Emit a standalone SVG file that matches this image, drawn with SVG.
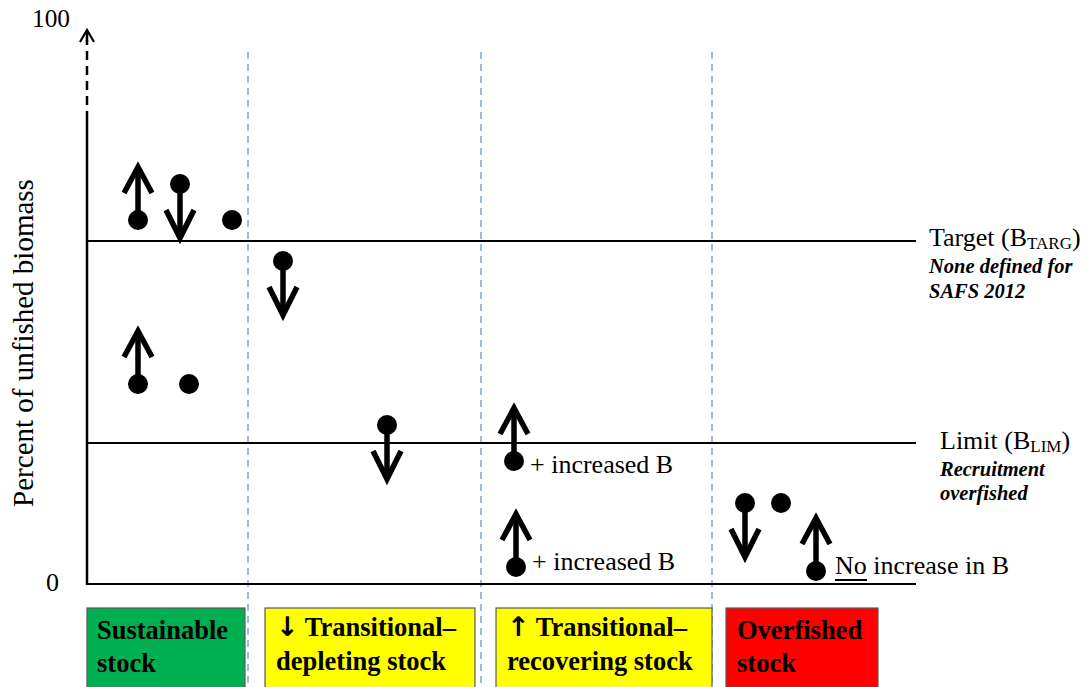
<svg xmlns="http://www.w3.org/2000/svg" width="1088" height="687" viewBox="0 0 1088 687" font-family="Liberation Serif, serif">
  <style>
    text { fill: #000; }
    .lbl { font-size: 26px; }
    .note { font-size: 20.5px; font-weight: bold; font-style: italic; }
    .sub { font-size: 17px; }
    .boxtxt { font-size: 26.5px; font-weight: bold; }
    .glyph { font-family: "DejaVu Sans", sans-serif; font-weight: bold; font-size: 27px; }
    .ref { stroke: #000; stroke-width: 2; fill: none; }
    .col { stroke: #7ea6d6; stroke-width: 1.5; stroke-dasharray: 7 5; fill: none; }
    .box { stroke: #5a5a5a; stroke-width: 1.2; }
    .shaft { stroke: #000; stroke-width: 5.5; fill: none; stroke-linecap: butt; stroke-linejoin: miter; }
    .dot { fill: #000; }
  </style>
  <defs>
    <!-- stock moving up: dot at origin, shaft rising 53px to a chevron head -->
    <g id="up">
      <line class="shaft" x1="0" y1="0" x2="0" y2="-51"/>
      <polyline class="shaft" points="-14,-27 0,-53 14,-27"/>
      <circle class="dot" cx="0" cy="0" r="10"/>
    </g>
    <!-- stock moving down: dot at origin, shaft falling 54px to a chevron head -->
    <g id="down">
      <line class="shaft" x1="0" y1="0" x2="0" y2="52"/>
      <polyline class="shaft" points="-14,26 0,54 14,26"/>
      <circle class="dot" cx="0" cy="0" r="10"/>
    </g>
  </defs>

  <rect width="1088" height="687" fill="#fff"/>

  <!-- axes, reference levels and column dividers -->
  <g id="connectors">
    <line class="col" x1="248" y1="52" x2="248" y2="687"/>
    <line class="col" x1="481" y1="52" x2="481" y2="687"/>
    <line class="col" x1="712" y1="52" x2="712" y2="687"/>
    <line class="ref" x1="87" y1="241" x2="916" y2="241"/>
    <line class="ref" x1="87" y1="443" x2="916" y2="443"/>
    <line class="ref" x1="87" y1="584" x2="916" y2="584"/>
    <line x1="87" y1="585" x2="87" y2="120" stroke="#000" stroke-width="2.5"/>
    <line x1="87" y1="120" x2="87" y2="40" stroke="#000" stroke-width="2.5" stroke-dasharray="9 6"/>
    <line x1="87" y1="31" x2="87" y2="42" stroke="#000" stroke-width="2.5"/>
    <polyline points="80,42 87,30 94,42" fill="none" stroke="#000" stroke-width="2.2"/>
  </g>

  <!-- axis labels -->
  <g id="axis-labels">
    <text class="lbl" x="32" y="27" textLength="38" lengthAdjust="spacingAndGlyphs">100</text>
    <text class="lbl" x="46" y="591">0</text>
    <text font-size="29" transform="translate(33,343) rotate(-90)" text-anchor="middle">Percent of unfished biomass</text>
  </g>

  <!-- reference level labels -->
  <g id="target-label">
    <text class="lbl" x="929" y="246">Target (B<tspan class="sub" dy="3">TARG</tspan><tspan dy="-3">)</tspan></text>
    <text class="note" x="929" y="273">None defined for</text>
    <text class="note" x="929" y="298">SAFS 2012</text>
  </g>
  <g id="limit-label">
    <text class="lbl" x="940" y="449">Limit (B<tspan class="sub" dy="3">LIM</tspan><tspan dy="-3">)</tspan></text>
    <text class="note" x="940" y="476">Recruitment</text>
    <text class="note" x="940" y="500">overfished</text>
  </g>

  <!-- sustainable stocks -->
  <g id="sustainable-points">
    <use href="#up" x="138" y="220"/>
    <use href="#down" x="180" y="184"/>
    <circle class="dot" cx="232" cy="220" r="10"/>
    <use href="#up" x="138" y="384"/>
    <circle class="dot" cx="189" cy="384" r="10"/>
  </g>

  <!-- transitional-depleting stocks -->
  <g id="depleting-points">
    <use href="#down" x="283" y="261"/>
    <use href="#down" x="387" y="425"/>
  </g>

  <!-- transitional-recovering stocks -->
  <g id="recovering-points">
    <use href="#up" x="514" y="461"/>
    <text class="lbl" x="530" y="473">+ increased B</text>
    <use href="#up" x="516" y="567"/>
    <text class="lbl" x="532" y="570">+ increased B</text>
  </g>

  <!-- overfished stocks -->
  <g id="overfished-points">
    <use href="#down" x="745" y="503"/>
    <circle class="dot" cx="781" cy="503" r="10"/>
    <use href="#up" x="816" y="571"/>
    <text class="lbl" x="835" y="574">No increase in B</text>
    <line x1="835" y1="580" x2="867" y2="580" stroke="#000" stroke-width="2"/>
  </g>

  <!-- category boxes -->
  <g id="box-sustainable">
    <rect class="box" x="87" y="608" width="158" height="82" fill="#00b050"/>
    <text class="boxtxt" x="97" y="639">Sustainable</text>
    <text class="boxtxt" x="97" y="672">stock</text>
  </g>
  <g id="box-depleting">
    <rect class="box" x="265" y="608" width="210" height="82" fill="#ffff00"/>
    <text class="boxtxt" x="276" y="636"><tspan class="glyph">↓</tspan> Transitional–</text>
    <text class="boxtxt" x="276" y="670">depleting stock</text>
  </g>
  <g id="box-recovering">
    <rect class="box" x="496" y="608" width="216" height="82" fill="#ffff00"/>
    <text class="boxtxt" x="507" y="636"><tspan class="glyph">↑</tspan> Transitional–</text>
    <text class="boxtxt" x="507" y="670">recovering stock</text>
  </g>
  <g id="box-overfished">
    <rect class="box" x="726" y="608" width="152" height="82" fill="#ff0000"/>
    <text class="boxtxt" x="737" y="639">Overfished</text>
    <text class="boxtxt" x="737" y="672">stock</text>
  </g>
</svg>
